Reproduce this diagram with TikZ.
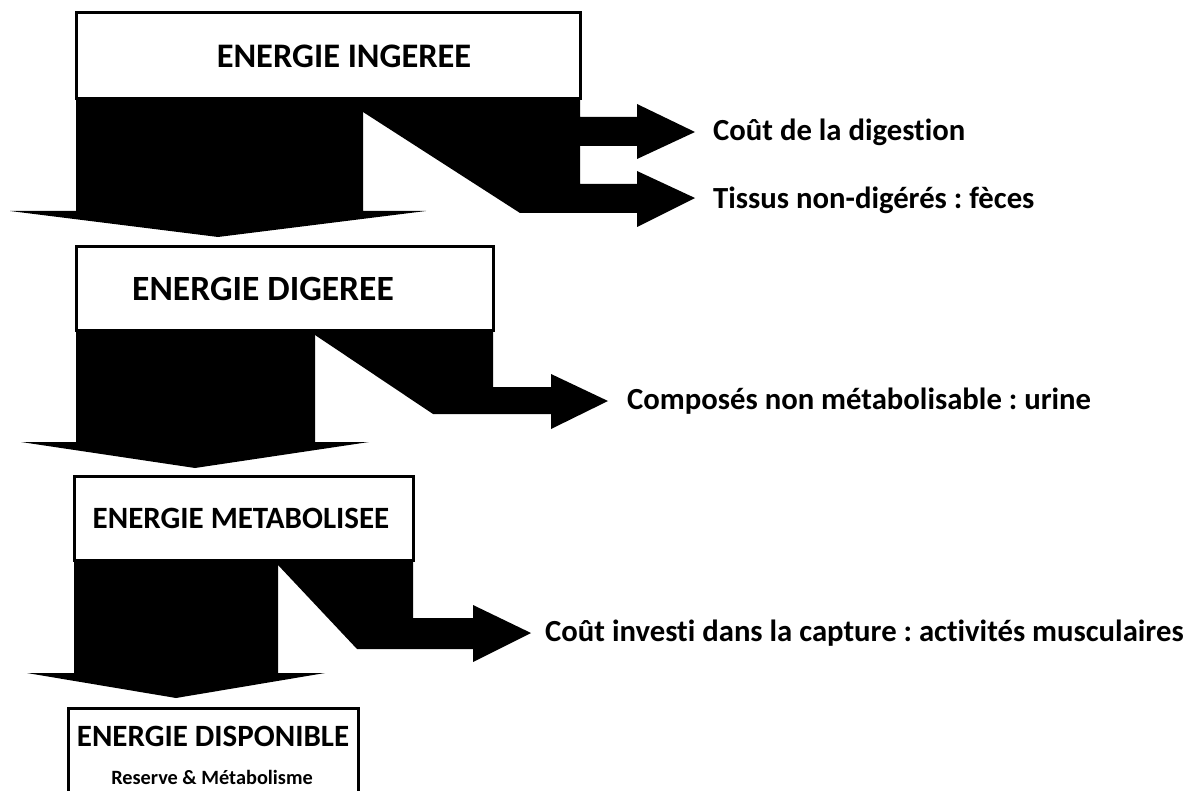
\documentclass[tikz,border=0pt]{standalone}
\usepackage{fontspec}
\setmainfont{Carlito}[Ligatures=NoCommon]
\frenchspacing
\begin{document}
\begin{tikzpicture}[x=1pt,y=-1pt,
  box/.style={draw=black,line width=3pt,fill=white,inner sep=0pt},
  title/.style={font=\fontsize{#1}{36}\selectfont\bfseries},
  lbl/.style={anchor=west,inner sep=0pt,font=\fontsize{30.7}{34}\selectfont\bfseries},
  flow/.style={fill=black,draw=none}]
\useasboundingbox (0,0) rectangle (1196,791);
\clip (0,0) rectangle (1196,791);
% flows
\fill[flow] (76,99) -- (363,99) -- (363,211) -- (426,211) -- (218,237) -- (10,211) -- (76,211) -- cycle;
\fill[flow] (363,99) -- (580,99) -- (580,117) -- (637,117) -- (637,104) -- (695,132) -- (637,159) -- (637,146) -- (580,146) -- (580,184) -- (637,184) -- (637,171) -- (695,198) -- (637,227) -- (637,213) -- (520,213) -- (363,112) -- cycle;
\fill[flow] (76,331) -- (315,331) -- (315,442) -- (369,442) -- (195,468) -- (21,442) -- (76,442) -- cycle;
\fill[flow] (315,331) -- (493,331) -- (493,387) -- (551,387) -- (551,374) -- (608,401) -- (551,429) -- (551,414) -- (433,414) -- (315,335) -- cycle;
\fill[flow] (74,560) -- (278,560) -- (278,673) -- (325,673) -- (176,698) -- (27,673) -- (74,673) -- cycle;
\fill[flow] (278,560) -- (413,560) -- (413,618) -- (473,618) -- (473,605) -- (531,633) -- (473,662) -- (473,649) -- (357,649) -- (278,565) -- cycle;
% boxes
\node[box,minimum width=504pt,minimum height=86pt,title=34.4] (b1) at (328,56) {\hspace*{32pt}ENERGIE INGEREE};
\node[box,minimum width=417pt,minimum height=84pt,title=35.5] (b2) at (284.5,289) {\raisebox{-3pt}{ENERGIE DIGEREE}\hspace*{43pt}};
\node[box,minimum width=339pt,minimum height=84pt,title=31] (b3) at (243.5,518) {\hspace*{-5pt}\raisebox{-3pt}{ENERGIE METABOLISEE}};
\draw[line width=3pt,fill=white] (68,820) -- (68,708) -- (358,708) -- (358,820);
\node[title=31,inner sep=0pt] (b4) at (213,736) {ENERGIE DISPONIBLE};
\node[inner sep=0pt,font=\fontsize{20.3}{24}\selectfont\bfseries] (b4s) at (212,777) {Reserve \& Métabolisme};
% labels
\node[lbl] (l1) at (713,132) {Coût de la digestion};
\node[lbl] (l2) at (713,200) {Tissus non-digérés : fèces};
\node[lbl] (l3) at (627,401) {Composés non métabolisable : urine};
\node[lbl] (l4) at (545,633) {Coût investi dans la capture : activités musculaires};
\end{tikzpicture}
\end{document}
